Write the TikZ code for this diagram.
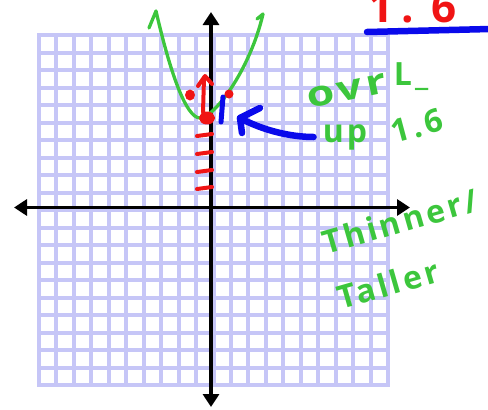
\documentclass[tikz,border=0pt]{standalone}
\usepackage{fontspec}
\newfontfamily\handfont{Open Sans}[LetterSpace=10]
\usetikzlibrary{arrows.meta,positioning}
\definecolor{gridlav}{HTML}{C6C6F7}
\definecolor{pengreen}{HTML}{3CC63C}
\definecolor{penred}{HTML}{F01414}
\definecolor{penblue}{HTML}{0A0AEB}
\tikzset{
  gridline/.style={draw=gridlav,line width=4pt,line cap=rect},
  axis/.style    ={draw=black,line width=3.5pt,
                   {Triangle[length=13pt,width=16pt]}-{Triangle[length=13pt,width=16pt]}},
  greenpen/.style={draw=pengreen,line width=3.3pt,line cap=round,line join=round},
  redpen/.style  ={draw=penred,line width=4pt,line cap=round,line join=round},
  bluepen/.style ={draw=penblue,line width=6.5pt,line cap=round,line join=round},
  note/.style    ={text=pengreen,inner sep=0pt,font=\handfont\bfseries\fontsize{32}{34}\selectfont},
  rednote/.style ={text=penred,inner sep=0pt,font=\handfont\bfseries\fontsize{44}{46}\selectfont}
}

\begin{document}
\begin{tikzpicture}[x=1pt,y=-1pt]
  \useasboundingbox (0,0) rectangle (488,410);
  % graph paper
  \foreach \i in {0,...,20} {
    \draw[gridline] ({39+17.45*\i},35) -- ({39+17.45*\i},385);
    \draw[gridline] (39,{35+17.5*\i}) -- (388,{35+17.5*\i});
  }
  % axes
  \coordinate (xl) at (14,207.5);
  \coordinate (xr) at (410,207.5);
  \coordinate (yt) at (211,12);
  \coordinate (yb) at (211,407);
  \draw[axis] (xl) -- (xr);
  \draw[axis] (yt) -- (yb);
  % parabola
  \coordinate (vtx) at (200,118);
  \draw[greenpen] (149,28) -- (156,11) .. controls (170,72) and (186,118) .. (vtx)
    .. controls (214,118) and (250,70) .. (263,14) -- (257,19);
  % red marks
  \draw[redpen] (203,112) -- (204,78);
  \draw[redpen] (198,86) -- (205,76) -- (212,84);
  \fill[penred] (190,95) ellipse [x radius=5pt,y radius=5.5pt];
  \fill[penred] (229,94) circle (4.5pt);
  \filldraw[redpen,fill=penred] (207,118) ellipse [x radius=6pt,y radius=4.5pt];
  \foreach \y in {135,153,171,188}
    \draw[redpen] (197,\y+1) -- (212,\y-1);
  \node[rednote,anchor=base west] (redval) at (368,22) {1\hspace{8pt}.\hspace{18pt}6};
  % blue marks
  \draw[bluepen,line width=5pt] (223,97) -- (221,122);
  \draw[bluepen] (367,32) -- (490,29);
  % notes
  \node[note,rotate=12] (ovr) at (347,91) {\scalebox{1.4}[1.1]{ovr}};
  \node[note] (ovrL) at (411,77) {L\_};
  \node[note] (up) at (345,137) {up};
  \node[note,rotate=15] (upval) at (417,126) {1.6};
  \node[note,rotate=16] (thinner) at (400,221) {Thinner/};
  \node[note,rotate=16] (taller) at (388,284) {Taller};
  \coordinate (tip) at (240,118);
  \draw[bluepen] ([xshift=-9pt]up.west) .. controls (290,137) and (262,130) .. (tip);
  \draw[bluepen] (260,108) -- (tip) -- (242,133);
\end{tikzpicture}
\end{document}
